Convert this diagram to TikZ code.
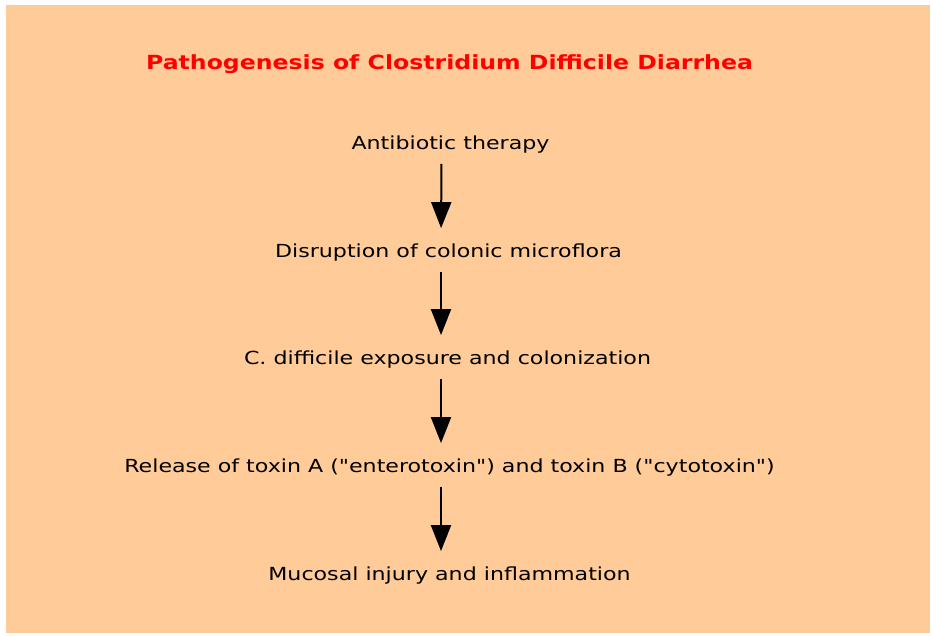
\documentclass[tikz,border=0pt]{standalone}
\usepackage{fontspec}
\setmainfont{DejaVu Sans}
\newfontfamily\widefont[FakeStretch=1.23]{DejaVu Sans}
\newfontfamily\widebold[FakeStretch=1.21]{DejaVu Sans Bold}
\usetikzlibrary{arrows.meta}
\definecolor{peach}{HTML}{FFCC99}
\newcommand{\dq}{\symbol{34}}

\begin{document}
\begin{tikzpicture}[x=1pt, y=-1pt, >={Triangle[width=20pt, length=26pt]},
    step text/.style={font=\widefont\fontsize{18}{21}\selectfont, inner sep=2pt},
    flow/.style={->, line width=2pt, shorten <=8pt, shorten >=14pt}]
    \fill[white] (0, 0) rectangle (931, 635);
    \fill[peach] (6, 5) rectangle (930, 633);
    \node[text=red, font=\widebold\fontsize{19.5}{22}\selectfont] (title) at (449.5, 64) {Pathogenesis of Clostridium Difficile Diarrhea};
    \node[step text] (abx) at (450.5, 145) {Antibiotic therapy};
    \node[step text] (disrupt) at (448.5, 253) {Disruption of colonic microflora};
    \node[step text] (expose) at (447.5, 360) {C. difficile exposure and colonization};
    \node[step text] (toxin) at (449.5, 468) {Release of toxin A (\dq enterotoxin\dq) and toxin B (\dq cytotoxin\dq)};
    \node[step text] (injury) at (449.5, 576) {Mucosal injury and inflammation};
    \draw[flow] ([xshift=-9pt]abx.south) -- ([xshift=-7.5pt]disrupt.north);
    \draw[flow] ([xshift=-7.5pt]disrupt.south) -- ([xshift=-6.5pt]expose.north);
    \draw[flow] ([xshift=-6.5pt]expose.south) -- ([xshift=-8.5pt]toxin.north);
    \draw[flow] ([xshift=-8.5pt]toxin.south) -- ([xshift=-8.5pt]injury.north);
\end{tikzpicture}
\end{document}
